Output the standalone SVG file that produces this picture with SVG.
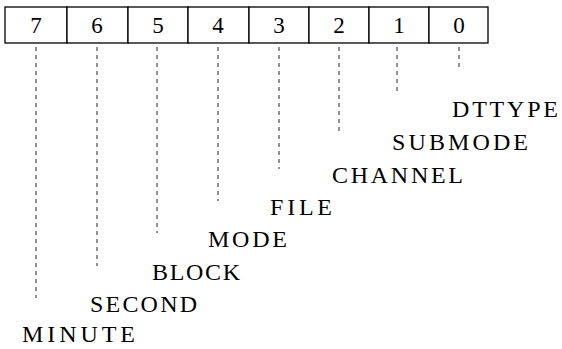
<svg xmlns="http://www.w3.org/2000/svg" width="562" height="349" viewBox="0 0 562 349">
<style>
.cell{fill:#fff;stroke:#000;stroke-width:1.3}
.num{font-family:"Liberation Serif",serif;font-size:23px;text-anchor:middle;fill:#000}
.lbl{font-family:"Liberation Serif",serif;font-size:24px;fill:#000}
.dash{stroke:#222;stroke-width:1;stroke-dasharray:4 4;fill:none}
</style>
<rect width="562" height="349" fill="#fff"/>
<g id="register">
<g id="bit7"><rect class="cell" x="5" y="7" width="62" height="36"/><text class="num" x="36" y="33">7</text></g>
<g id="bit6"><rect class="cell" x="67" y="7" width="61" height="36"/><text class="num" x="97" y="33">6</text></g>
<g id="bit5"><rect class="cell" x="128" y="7" width="60" height="36"/><text class="num" x="158" y="33">5</text></g>
<g id="bit4"><rect class="cell" x="188" y="7" width="61" height="36"/><text class="num" x="218" y="33">4</text></g>
<g id="bit3"><rect class="cell" x="249" y="7" width="60" height="36"/><text class="num" x="279" y="33">3</text></g>
<g id="bit2"><rect class="cell" x="309" y="7" width="60" height="36"/><text class="num" x="339" y="33">2</text></g>
<g id="bit1"><rect class="cell" x="369" y="7" width="60" height="36"/><text class="num" x="399" y="33">1</text></g>
<g id="bit0"><rect class="cell" x="429" y="7" width="59" height="36"/><text class="num" x="459" y="33">0</text></g>
</g>
<g id="connectors">
<line class="dash" x1="36" y1="47" x2="36" y2="298"/>
<line class="dash" x1="97" y1="47" x2="97" y2="266"/>
<line class="dash" x1="157" y1="47" x2="157" y2="233"/>
<line class="dash" x1="218" y1="47" x2="218" y2="201"/>
<line class="dash" x1="279" y1="47" x2="279" y2="169"/>
<line class="dash" x1="339" y1="47" x2="339" y2="133"/>
<line class="dash" x1="397" y1="47" x2="397" y2="93"/>
<line class="dash" x1="459" y1="47" x2="459" y2="71"/>
</g>
<g id="labels">
<text id="lbl-dttype" class="lbl" x="452" y="117" textLength="106" lengthAdjust="spacing">DTTYPE</text>
<text id="lbl-submode" class="lbl" x="392" y="150" textLength="136" lengthAdjust="spacing">SUBMODE</text>
<text id="lbl-channel" class="lbl" x="332" y="183" textLength="131" lengthAdjust="spacing">CHANNEL</text>
<text id="lbl-file" class="lbl" x="270" y="215" textLength="62" lengthAdjust="spacing">FILE</text>
<text id="lbl-mode" class="lbl" x="208" y="247" textLength="79" lengthAdjust="spacing">MODE</text>
<text id="lbl-block" class="lbl" x="152" y="280" textLength="88" lengthAdjust="spacing">BLOCK</text>
<text id="lbl-second" class="lbl" x="90" y="312" textLength="107" lengthAdjust="spacing">SECOND</text>
<text id="lbl-minute" class="lbl" x="22" y="342" textLength="113" lengthAdjust="spacing">MINUTE</text>
</g>
</svg>
